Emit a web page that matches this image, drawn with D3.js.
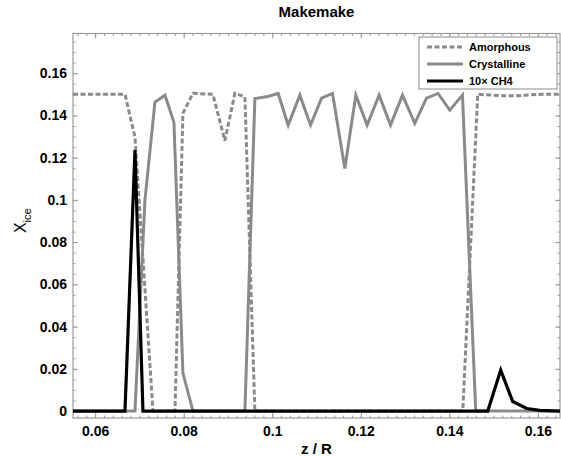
<!DOCTYPE html>
<html>
<head>
<meta charset="utf-8">
<script src="https://cdn.jsdelivr.net/npm/d3@7"></script>
<style>
    body { margin: 0; background: #fff; }
    text { font-family: "Liberation Sans", Arial, sans-serif; font-weight: bold; }
</style>
</head>
<body>
<div id="chart"></div>
<script>

// Makemake ice fractions vs depth
const zAmorphous = [0.055, 0.06674, 0.0690, 0.07306, 0.07803, 0.07983, 0.08209, 0.0866, 0.08931, 0.09157, 0.09383, 0.09608,
    0.14304, 0.14642, 0.149, 0.152, 0.155, 0.158, 0.161, 0.165];
const amorphous = [0.15, 0.15, 0.1297, 0, 0, 0.141, 0.1505, 0.15, 0.128, 0.1505, 0.1487, 0,
    0, 0.15, 0.1497, 0.1493, 0.1493, 0.1497, 0.15, 0.15];

const zCrystalline = [0.055, 0.0690, 0.07125, 0.07351, 0.07577, 0.0778, 0.07983, 0.08209, 0.09383, 0.09608,
    0.09872, 0.10134, 0.1036, 0.10624, 0.10866, 0.11114, 0.11362, 0.1164, 0.11888, 0.12143, 0.12414,
    0.12672, 0.12942, 0.1322, 0.13484, 0.13746, 0.1401, 0.14297, 0.14597, 0.165];
const crystalline = [0, 0, 0.0999, 0.1463, 0.1496, 0.1368, 0.018, 0, 0, 0.148,
    0.1488, 0.1504, 0.1354, 0.1496, 0.1354, 0.1482, 0.1504, 0.1149, 0.1496, 0.1354, 0.1496,
    0.1354, 0.1496, 0.1362, 0.1482, 0.1504, 0.1425, 0.1496, 0, 0];

const zMethane = [0.055, 0.06674, 0.0690, 0.0708, 0.14868, 0.15161, 0.15432, 0.15748, 0.16042, 0.165];
const methane = [0, 0, 0.1236, 0, 0, 0.0194, 0.0045, 0.0012, 0.0003, 0];

const seriesNames = ["Amorphous", "Crystalline", "10\u00d7 CH4"];
const xTicks = [0.06, 0.08, 0.1, 0.12, 0.14, 0.16];
const xTickLabels = ["0.06", "0.08", "0.1", "0.12", "0.14", "0.16"];
const yTicks = [0, 0.02, 0.04, 0.06, 0.08, 0.1, 0.12, 0.14, 0.16];
const yTickLabels = ["0", "0.02", "0.04", "0.06", "0.08", "0.1", "0.12", "0.14", "0.16"];


class iceVis {
    constructor(parentElement) {
        this.parentElement = parentElement;
        this.initVis();
    }

    initVis() {
        let vis = this;
        vis.margin = {top: 33.5, right: 1, bottom: 38, left: 73};
        vis.width = 561 - vis.margin.left - vis.margin.right;
        vis.height = 456 - vis.margin.top - vis.margin.bottom;

        vis.svg = d3.select("#" + vis.parentElement).append("svg")
            .attr("width", 561)
            .attr("height", 456)
            .append("g")
            .attr("transform", `translate(${vis.margin.left}, ${vis.margin.top})`);

        vis.x = d3.scaleLinear().domain([0.055, 0.165]).range([0, vis.width]);
        vis.y = d3.scaleLinear().domain([-0.0033, 0.1788]).range([vis.height, 0]);

        vis.series = [
            {name: seriesNames[0], data: zAmorphous.map((z, i) => [z, amorphous[i]]), color: "#8a8a8a", width: 3, dash: "5,2.5"},
            {name: seriesNames[1], data: zCrystalline.map((z, i) => [z, crystalline[i]]), color: "#8a8a8a", width: 3, dash: null},
            {name: seriesNames[2], data: zMethane.map((z, i) => [z, methane[i]]), color: "#000", width: 3.2, dash: null}
        ];

        vis.drawAxes();
        vis.updateVis();
    }

    drawAxes() {
        let vis = this;
        let gray = "#9a9a9a";
        let xMinor = d3.range(0.056, 0.1649, 0.002);
        let yMinor = d3.range(0, 0.1786, 0.005);

        let axes = [
            {axis: d3.axisBottom(vis.x).tickValues(xTicks).tickFormat((d, i) => xTickLabels[i]).tickSize(-5).tickPadding(8.5), t: `translate(0, ${vis.height})`},
            {axis: d3.axisBottom(vis.x).tickValues(xMinor).tickFormat("").tickSize(-2.5), t: `translate(0, ${vis.height})`},
            {axis: d3.axisTop(vis.x).tickValues(xTicks).tickFormat("").tickSize(-5), t: "translate(0, 0)"},
            {axis: d3.axisTop(vis.x).tickValues(xMinor).tickFormat("").tickSize(-2.5), t: "translate(0, 0)"},
            {axis: d3.axisLeft(vis.y).tickValues(yTicks).tickFormat((d, i) => yTickLabels[i]).tickSize(-5).tickPadding(6), t: "translate(0, 0)"},
            {axis: d3.axisLeft(vis.y).tickValues(yMinor).tickFormat("").tickSize(-2.5), t: "translate(0, 0)"},
            {axis: d3.axisRight(vis.y).tickValues(yTicks).tickFormat("").tickSize(-5), t: `translate(${vis.width}, 0)`},
            {axis: d3.axisRight(vis.y).tickValues(yMinor).tickFormat("").tickSize(-2.5), t: `translate(${vis.width}, 0)`}
        ];

        axes.forEach(a => {
            let g = vis.svg.append("g")
                .attr("class", "axis")
                .attr("transform", a.t)
                .call(a.axis);
            g.select(".domain").remove();
            g.selectAll("line").attr("stroke", gray);
            g.selectAll("text")
                .attr("fill", "#000")
                .style("font-size", "14px")
                .style("font-family", '"Liberation Sans", Arial, sans-serif')
                .style("font-weight", "bold");
        });

        // frame
        vis.svg.append("rect")
            .attr("x", 0).attr("y", 0)
            .attr("width", vis.width).attr("height", vis.height)
            .attr("fill", "none")
            .attr("stroke", gray)
            .attr("stroke-width", 1.2);

        // titles
        vis.svg.append("text")
            .attr("x", vis.width / 2).attr("y", -17)
            .attr("text-anchor", "middle")
            .style("font-size", "15px")
            .text("Makemake");

        vis.svg.append("text")
            .attr("x", vis.width / 2).attr("y", vis.height + 36)
            .attr("text-anchor", "middle")
            .style("font-size", "15px")
            .text("z / R");

        let yLab = vis.svg.append("text")
            .attr("transform", `translate(${-47}, ${vis.height / 2 - 5}) rotate(-90)`)
            .attr("text-anchor", "middle")
            .style("font-size", "16px")
            .style("font-weight", "normal");
        yLab.append("tspan").text("X");
        yLab.append("tspan").attr("dy", 5).style("font-size", "11px").text("ice");
    }

    updateVis() {
        let vis = this;

        let line = d3.line()
            .x(d => vis.x(d[0]))
            .y(d => vis.y(d[1]));

        vis.svg.append("clipPath").attr("id", "plot-clip")
            .append("rect")
            .attr("width", vis.width).attr("height", vis.height);

        vis.svg.append("g")
            .attr("clip-path", "url(#plot-clip)")
            .selectAll("path")
            .data(vis.series)
            .enter().append("path")
            .attr("d", d => line(d.data))
            .attr("fill", "none")
            .attr("stroke", d => d.color)
            .attr("stroke-width", d => d.width)
            .attr("stroke-dasharray", d => d.dash)
            .attr("stroke-linejoin", "miter");

        // legend
        let lg = vis.svg.append("g")
            .attr("transform", `translate(${419 - vis.margin.left}, ${37 - vis.margin.top})`);
        lg.append("rect")
            .attr("width", 138).attr("height", 52)
            .attr("fill", "#fff")
            .attr("stroke", "#8a8a8a")
            .attr("stroke-width", 1);

        let items = lg.selectAll(".legend-item")
            .data(vis.series)
            .enter().append("g")
            .attr("class", "legend-item")
            .attr("transform", (d, i) => `translate(0, ${10 + i * 17})`);
        items.append("line")
            .attr("x1", 8).attr("x2", 44)
            .attr("stroke", d => d.color)
            .attr("stroke-width", d => d.width)
            .attr("stroke-dasharray", d => d.dash);
        items.append("text")
            .attr("x", 50).attr("y", 4)
            .style("font-size", "11px")
            .text(d => d.name);
    }
}

new iceVis("chart");
</script>
</body>
</html>
